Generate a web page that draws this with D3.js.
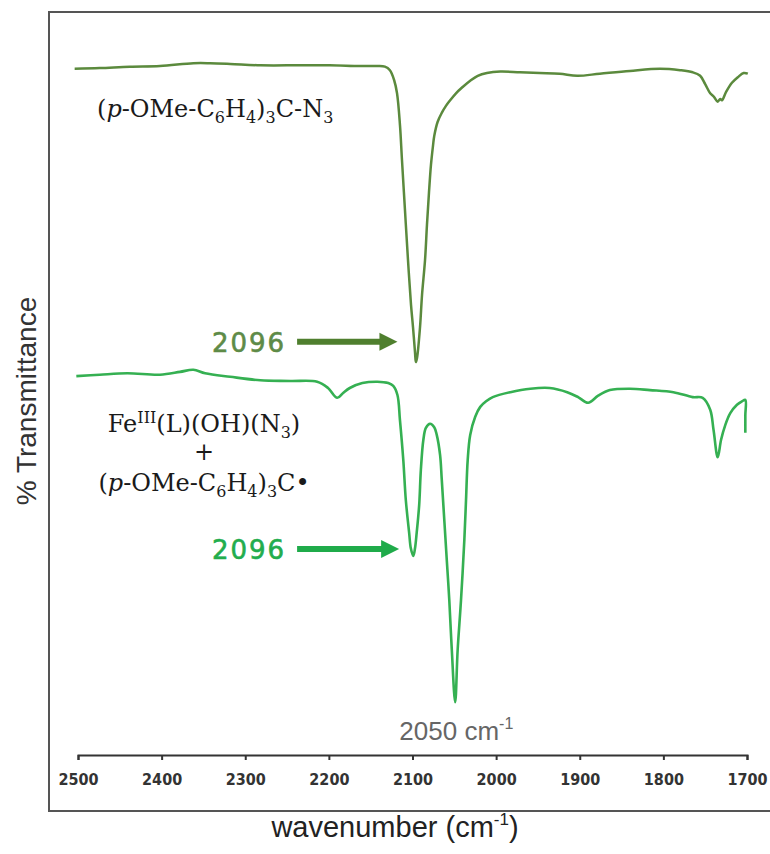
<!DOCTYPE html>
<html>
<head>
<meta charset="utf-8">
<script src="https://cdn.jsdelivr.net/npm/d3@7"></script>
<style>
  body { margin: 0; background: #fff; }
</style>
</head>
<body>
<div id="chart"></div>
<script>
var width  = 770;
var height = 854;

// (p-OMe-C6H4)3C-N3 : wavenumber (cm-1) / % transmittance (arbitrary offset)
var azideWn = [2504, 2474, 2438, 2402, 2362, 2342, 2318, 2282, 2235, 2199, 2163, 2142, 2133, 2127,
               2122, 2118.5, 2115, 2112.6, 2109, 2105.4, 2101.8, 2099.4, 2097, 2096, 2094.6, 2091,
               2088.6, 2085, 2082.7, 2080.3, 2077.9, 2075.5, 2074, 2070, 2065, 2060, 2055, 2048, 2040, 2031,
               2022, 2011, 1995, 1971.5, 1948, 1924, 1903, 1876, 1840, 1804, 1780, 1765, 1756, 1750,
               1744, 1739.5, 1735, 1732, 1730, 1725, 1718, 1711, 1704, 1699];
var azideT  = [96.6, 96.7, 96.9, 97.0, 97.4, 97.4, 97.3, 97.1, 97.1, 97.1, 97.0, 97.0, 96.9, 96.4,
               95.0, 93.1, 88.6, 83.6, 76.4, 69.3, 62.9, 59.7, 56.1, 54.7, 55.3, 59.7,
               64.3, 69.3, 74.3, 78.9, 82.9, 85.6, 87.0, 89.0, 90.3, 91.3, 92.1, 93.1, 94.0, 94.9,
               95.6, 96.0, 96.2, 96.1, 96.0, 95.9, 95.6, 95.9, 96.3, 96.6, 96.4, 96.1, 95.6, 94.4,
               93.1, 92.6, 91.9, 92.3, 92.1, 93.3, 94.6, 95.4, 96.0, 95.9];

// FeIII(L)(OH)(N3) + (p-OMe-C6H4)3C•
var mixWn = [2502, 2474, 2441, 2402, 2378, 2362, 2348, 2318, 2282, 2246, 2214, 2201, 2190, 2183,
             2175, 2160, 2142, 2129, 2123, 2118, 2115, 2111, 2108, 2104, 2102, 2099, 2097, 2095,
             2092, 2090, 2087, 2084, 2079, 2074, 2071, 2067, 2065, 2059, 2056, 2053, 2049, 2046,
             2042, 2038, 2036, 2034, 2031, 2025, 2019, 2012, 2004,
             1983, 1959, 1936, 1915, 1902, 1890, 1878, 1864, 1840, 1816, 1788, 1765, 1753, 1744,
             1740, 1735, 1731, 1726, 1720, 1712, 1706, 1702, 1702, 1702];
var mixT  = [52.7, 52.9, 53.1, 52.9, 53.3, 53.6, 53.1, 52.6, 52.1, 52.0, 51.9, 51.0, 49.6, 50.3,
             51.0, 51.7, 51.9, 51.7, 51.3, 50.0, 46.4, 40.7, 35.0, 30.3, 28.1, 27.0, 28.1, 30.3,
             34.3, 39.3, 43.6, 45.3, 45.9, 45.4, 44.3, 41.4, 37.9, 26.4, 20.7, 13.6, 6.1, 13.6,
             20.7, 29.3, 35.0, 40.7, 44.3, 46.9, 48.3, 49.1, 49.7,
             50.4, 50.9, 51.0, 50.4, 49.7, 48.9, 49.9, 50.7, 50.9, 50.7, 50.4, 49.7, 49.6, 47.9,
             45.0, 41.1, 43.6, 45.7, 47.4, 48.6, 49.1, 49.3, 47.1, 44.6];

var tickValues = [2500, 2400, 2300, 2200, 2100, 2000, 1900, 1800, 1700];

// peak call-outs: label, arrow tail / tip (cm-1), height (%T)
var arrowLabels = ["2096", "2096"];
var arrowTail   = [2238, 2238];
var arrowTip    = [2118, 2116];
var arrowT      = [57.6, 28.0];

// compound names: [text, style]  n = normal, i = italic, b = subscript, p = superscript
var name1 = [["(", "n"], ["p", "i"], ["-OMe-C", "n"], ["6", "b"], ["H", "n"], ["4", "b"],
             [")", "n"], ["3", "b"], ["C-N", "n"], ["3", "b"]];
var name2 = [["Fe", "n"], ["III", "p"], ["(L)(OH)(N", "n"], ["3", "b"], [")", "n"]];
var name3 = [["(", "n"], ["p", "i"], ["-OMe-C", "n"], ["6", "b"], ["H", "n"], ["4", "b"],
             [")", "n"], ["3", "b"], ["C\u2022", "n"]];

var azideColor = "#5b8a3d";
var mixColor   = "#35b052";
var arrowColor = ["#4f7f2e", "#1fab4a"];
var labelColor = ["#5e8b47", "#22ad4d"];

var svg = d3.select("#chart").append("svg")
    .attr("width", width)
    .attr("height", height)
    .style("background-color", "#fff");

var x = d3.scaleLinear().domain([2500, 1700]).range([78, 747]);
var y = d3.scaleLinear().domain([0, 100]).range([745, 45]);

// outer frame
svg.append("rect")
   .attr("x", 49).attr("y", 12)
   .attr("width", 800).attr("height", 799)
   .attr("fill", "none")
   .attr("stroke", "#555")
   .attr("stroke-width", 2);

// x axis
var xAxis = d3.axisBottom(x)
    .tickValues(tickValues)
    .tickSize(5)
    .tickSizeOuter(5)
    .tickPadding(14)
    .tickFormat(d3.format("d"));

var gx = svg.append("g")
    .attr("transform", "translate(0,755)")
    .call(xAxis);
gx.selectAll("path, line").attr("stroke", "#333").attr("stroke-width", 2);
gx.selectAll("text")
  .attr("fill", "#333")
  .style("font-family", "'DejaVu Sans Condensed', 'DejaVu Sans', sans-serif")
  .style("font-stretch", "condensed")
  .style("font-weight", "bold")
  .style("font-size", "16px");

// spectra
var line = d3.line()
    .x(function(d) { return x(d[0]); })
    .y(function(d) { return y(d[1]); })
    .curve(d3.curveCatmullRom.alpha(0.5));

svg.append("path")
   .datum(d3.zip(azideWn, azideT))
   .attr("d", line)
   .attr("fill", "none")
   .attr("stroke", azideColor)
   .attr("stroke-width", 2.5)
   .attr("stroke-linejoin", "round");

svg.append("path")
   .datum(d3.zip(mixWn, mixT))
   .attr("d", line)
   .attr("fill", "none")
   .attr("stroke", mixColor)
   .attr("stroke-width", 2.6)
   .attr("stroke-linejoin", "round");

// arrows + labels
arrowLabels.forEach(function(label, i) {
  var x0 = x(arrowTail[i]), x1 = x(arrowTip[i]), yy = y(arrowT[i]);
  var head = 18;
  svg.append("line")
     .attr("x1", x0).attr("x2", x1 - head + 1)
     .attr("y1", yy).attr("y2", yy)
     .attr("stroke", arrowColor[i])
     .attr("stroke-width", 6);
  svg.append("path")
     .attr("d", "M" + (x1 - head) + "," + (yy - 9) + "L" + x1 + "," + yy + "L" + (x1 - head) + "," + (yy + 9) + "Z")
     .attr("fill", arrowColor[i]);
  svg.append("text")
     .attr("x", x0 - 11)
     .attr("y", yy + 10)
     .attr("text-anchor", "end")
     .attr("fill", labelColor[i])
     .attr("stroke", labelColor[i])
     .attr("stroke-width", 0.6)
     .style("font-family", "'DejaVu Sans', sans-serif")
     .style("font-size", "26px")
     .style("letter-spacing", "2px")
     .text(label);
});

// compound labels
function chemLabel(parts, px, py, anchor) {
  var t = svg.append("text")
      .attr("x", px).attr("y", py)
      .attr("text-anchor", anchor)
      .attr("fill", "#1a1a1a")
      .style("font-family", "'DejaVu Serif', serif")
      .style("font-size", "24px");
  var shift = 0;
  parts.forEach(function(p) {
    var want = p[1] === "b" ? 6 : p[1] === "p" ? -9 : 0;
    var s = t.append("tspan").attr("dy", want - shift).text(p[0]);
    if (p[1] === "b" || p[1] === "p") s.style("font-size", "16px");
    if (p[1] === "i") s.style("font-style", "italic");
    shift = want;
  });
  return t;
}

chemLabel(name1, 97, 117, "start");
chemLabel(name2, 204, 432, "middle");
svg.append("text")
   .attr("x", 204).attr("y", 460)
   .attr("text-anchor", "middle")
   .attr("fill", "#1a1a1a")
   .style("font-family", "'DejaVu Serif', serif")
   .style("font-size", "24px")
   .text("+");
chemLabel(name3, 204, 491, "middle");

// 2050 cm-1 note
var note = svg.append("text")
    .attr("x", x(2050) + 2).attr("y", 740)
    .attr("text-anchor", "middle")
    .attr("fill", "#666")
    .style("font-family", "'Liberation Sans', Arial, sans-serif")
    .style("font-size", "26px");
note.append("tspan").text("2050 cm");
note.append("tspan").attr("dy", -11).style("font-size", "16px").text("-1");

// axis titles
var xt = svg.append("text")
    .attr("x", 395).attr("y", 837)
    .attr("text-anchor", "middle")
    .attr("fill", "#222")
    .style("font-family", "'Liberation Sans', Arial, sans-serif")
    .style("font-size", "29px");
xt.append("tspan").text("wavenumber (cm");
xt.append("tspan").attr("dy", -12).style("font-size", "17px").text("-1");
xt.append("tspan").attr("dy", 12).text(")");

svg.append("text")
   .attr("transform", "translate(36,401) rotate(-90)")
   .attr("text-anchor", "middle")
   .attr("fill", "#333")
   .style("font-family", "'Liberation Sans', Arial, sans-serif")
   .style("font-size", "28px")
   .text("% Transmittance");
</script>
</body>
</html>
